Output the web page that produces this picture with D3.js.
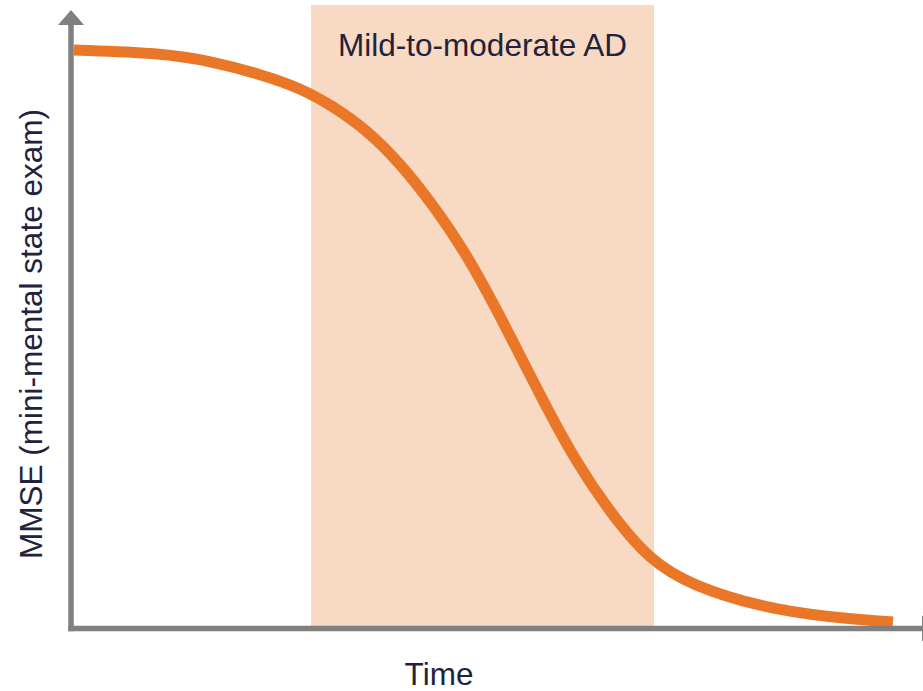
<!DOCTYPE html>
<html>
<head>
<meta charset="utf-8">
<script src="https://cdn.jsdelivr.net/npm/d3@7"></script>
<style>
  html, body { margin: 0; padding: 0; background: #ffffff; }
  svg { display: block; }
  text { font-family: "Liberation Sans", Arial, sans-serif; fill: #22223a; }
</style>
</head>
<body>
<script>
// Disease course: cognitive score (MMSE) declining over time
const timePoints = [0.35, 10.5, 16.4, 22.2, 27.0, 30.8, 34.8, 38.7, 42.6, 46.6,
                    50.1, 53.1, 56.1, 59.3, 63.2, 68.1, 73.2, 81.1, 88.9, 96.7];
const mmseScores = [28.9, 28.75, 28.35, 27.7, 27.0, 26.1, 24.9, 23.25, 21.15, 18.65,
                    15.9, 13.4, 10.9, 8.4, 5.9, 3.35, 2.1, 1.05, 0.55, 0.3];

// Stage highlighted as a shaded band (start / end on the time axis)
const stageNames = ["Mild-to-moderate AD"];
const stageStart = [28.24];
const stageEnd = [68.59];

const axisTitles = { x: "Time", y: "MMSE (mini-mental state exam)" };

const W = 923, H = 691;
const svg = d3.select("body").append("svg").attr("width", W).attr("height", H);

const x = d3.scaleLinear().domain([0, 100]).range([71, 921]);
const y = d3.scaleLinear().domain([0, 30]).range([628, 28]);

const plotTop = 5;
const axisColor = "#808080";
const axisWidth = 5.5;

// Shaded stage band
const stages = stageNames.map((n, i) => ({ name: n, start: stageStart[i], end: stageEnd[i] }));
svg.selectAll("rect.stage").data(stages).enter().append("rect")
  .attr("class", "stage")
  .attr("x", d => x(d.start))
  .attr("y", plotTop)
  .attr("width", d => x(d.end) - x(d.start))
  .attr("height", y(0) - plotTop)
  .attr("fill", "#f8d9c4");

svg.selectAll("text.stage").data(stages).enter().append("text")
  .attr("class", "stage")
  .attr("x", d => (x(d.start) + x(d.end)) / 2)
  .attr("y", 56)
  .attr("text-anchor", "middle")
  .attr("font-size", "31.5px")
  .text(d => d.name);

// Decline curve
const data = timePoints.map((t, i) => ({ t, v: mmseScores[i] }));
const line = d3.line().x(d => x(d.t)).y(d => y(d.v)).curve(d3.curveBasis);
svg.append("path")
  .datum(data)
  .attr("d", line)
  .attr("fill", "none")
  .attr("stroke", "#e97727")
  .attr("stroke-width", 11)
  .attr("stroke-linecap", "butt");

// Axes with arrowheads
const x0 = x(0), y0 = y(0) + 0.5;
const xEnd = x.range()[1] + 1;
const yTip = 10, arrowLen = 15, arrowHalf = 13;

svg.append("line")
  .attr("x1", x0).attr("y1", yTip + arrowLen - 1)
  .attr("x2", x0).attr("y2", y0 + axisWidth / 2)
  .attr("stroke", axisColor).attr("stroke-width", axisWidth);
svg.append("path")
  .attr("d", `M${x0},${yTip} L${x0 + arrowHalf},${yTip + arrowLen} L${x0 - arrowHalf},${yTip + arrowLen} Z`)
  .attr("fill", axisColor);

svg.append("line")
  .attr("x1", x0 - axisWidth / 2).attr("y1", y0)
  .attr("x2", xEnd).attr("y2", y0)
  .attr("stroke", axisColor).attr("stroke-width", axisWidth);
svg.append("path")
  .attr("d", `M${xEnd + arrowLen},${y0} L${xEnd},${y0 - arrowHalf} L${xEnd},${y0 + arrowHalf} Z`)
  .attr("fill", axisColor);

// Axis titles
svg.append("text")
  .attr("x", 439).attr("y", 685)
  .attr("text-anchor", "middle")
  .attr("font-size", "31.5px")
  .text(axisTitles.x);

svg.append("text")
  .attr("transform", "translate(41.5,334) rotate(-90)")
  .attr("text-anchor", "middle")
  .attr("font-size", "31.5px")
  .text(axisTitles.y);
</script>
</body>
</html>
